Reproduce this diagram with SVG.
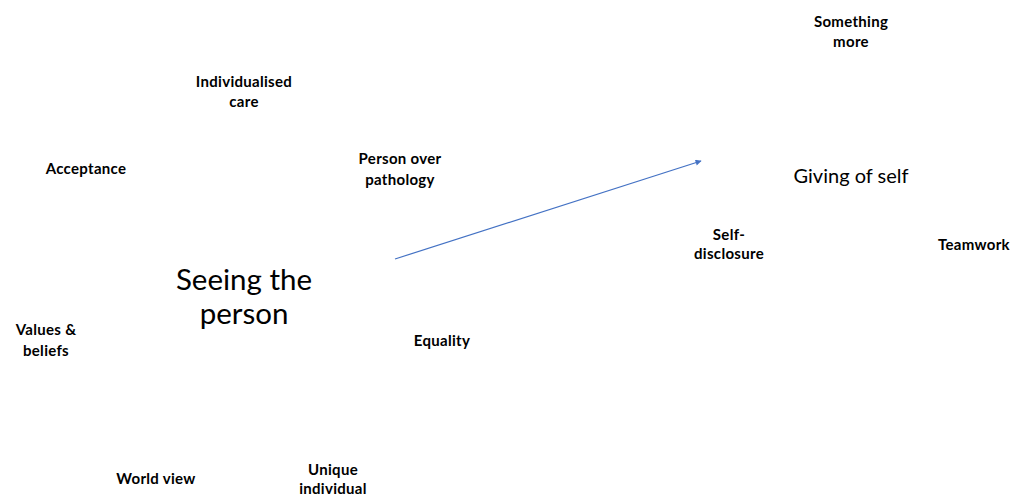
<svg xmlns="http://www.w3.org/2000/svg" width="1011" height="495" viewBox="0 0 1011 495">
<defs>
<style>
text{font-family:Lato,"Open Sans","Liberation Sans",sans-serif;fill:#000;text-anchor:middle}
.s{font-size:15px;font-weight:bold;letter-spacing:0.3px}
.m{font-size:20px}
.l{font-size:29.5px}
.c{stroke:#4472C4;stroke-width:1.2;fill:none}
</style>
<marker id="ah" viewBox="0 0 10 10" refX="9" refY="5" markerWidth="7" markerHeight="6" orient="auto" markerUnits="userSpaceOnUse">
<path d="M0,0 L10,5 L0,10 z" fill="#4472C4"/>
</marker>
</defs>
<rect width="1011" height="495" fill="#fff"/>
<g id="connectors">
<line class="c" x1="395" y1="259" x2="701" y2="161" marker-end="url(#ah)"/>
</g>
<g id="something-more"><text class="s" x="851" y="27">Something</text><text class="s" x="851" y="47">more</text></g>
<g id="individualised-care"><text class="s" x="244" y="87">Individualised</text><text class="s" x="244" y="107">care</text></g>
<g id="acceptance"><text class="s" x="86" y="174">Acceptance</text></g>
<g id="person-over-pathology"><text class="s" x="400" y="164">Person over</text><text class="s" x="400" y="185">pathology</text></g>
<g id="giving-of-self"><text class="m" x="851" y="183">Giving of self</text></g>
<g id="self-disclosure"><text class="s" x="729" y="240">Self-</text><text class="s" x="729" y="259">disclosure</text></g>
<g id="teamwork"><text class="s" x="974" y="250">Teamwork</text></g>
<g id="seeing-the-person"><text class="l" x="244" y="290">Seeing the</text><text class="l" x="244" y="324">person</text></g>
<g id="values-beliefs"><text class="s" x="46" y="335">Values &amp;</text><text class="s" x="46" y="356">beliefs</text></g>
<g id="equality"><text class="s" x="442" y="346">Equality</text></g>
<g id="world-view"><text class="s" x="156" y="484">World view</text></g>
<g id="unique-individual"><text class="s" x="333" y="475">Unique</text><text class="s" x="333" y="494">individual</text></g>
</svg>
